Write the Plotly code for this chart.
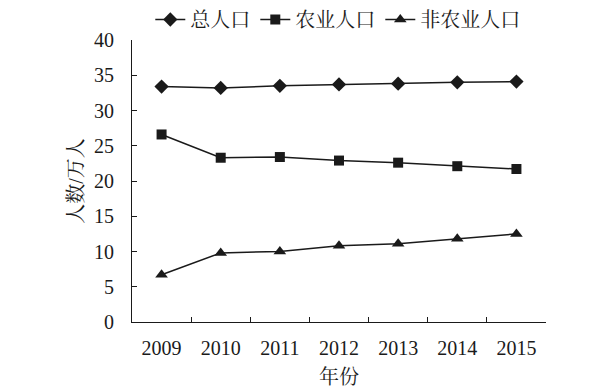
import plotly.graph_objects as go

years = ["2009", "2010", "2011", "2012", "2013", "2014", "2015"]
total_pop = [33.4, 33.2, 33.5, 33.7, 33.8, 34.0, 34.1]
agri_pop = [26.6, 23.3, 23.4, 22.9, 22.6, 22.1, 21.7]
nonagri_pop = [6.7, 9.8, 10.0, 10.8, 11.1, 11.8, 12.5]
series_names = ["总人口", "农业人口", "非农业人口"]
y_ticks = [0, 5, 10, 15, 20, 25, 30, 35, 40]

FONT = "Liberation Serif, Times New Roman, Noto Serif CJK SC, Noto Sans CJK SC, serif"
INK = "#1a1a1a"

fig = go.Figure()
for name, vals, sym in zip(series_names, [total_pop, agri_pop, nonagri_pop],
                           ["diamond", "square", "triangle-up"]):
    fig.add_trace(go.Scatter(
        x=years, y=vals, name=name, mode="lines+markers",
        line=dict(color=INK, width=1.5),
        marker=dict(symbol=sym, size=11 if sym != "square" else 10, color=INK),
    ))

fig.update_layout(
    width=600, height=388,
    margin=dict(l=132, r=54, t=40, b=66, autoexpand=False),
    paper_bgcolor="white", plot_bgcolor="white",
    font=dict(family=FONT, size=20, color=INK),
    showlegend=True,
    legend=dict(orientation="h", x=0.563, xanchor="center", xref="container",
                y=1.0, yanchor="top", yref="container",
                font=dict(size=20), itemwidth=30, tracegroupgap=0,
                bgcolor="rgba(0,0,0,0)"),
    xaxis=dict(type="category", range=[-0.5, 6.5], showgrid=False,
               showline=True, linecolor=INK, linewidth=1,
               ticks="inside", ticklen=5, tickcolor=INK, tickson="boundaries",
               ticklabelstandoff=8,
               title=dict(text="年份", font=dict(size=20), standoff=11),
               tickfont=dict(size=20)),
    yaxis=dict(range=[0, 40], tickvals=y_ticks, showgrid=False, zeroline=False,
               showline=True, linecolor=INK, linewidth=1,
               ticks="inside", ticklen=5, tickcolor=INK,
               ticklabelstandoff=13,
               title=dict(text="人数/万人", font=dict(size=20), standoff=5),
               tickfont=dict(size=20)),
)

fig.write_html("out.html",
               config={"displayModeBar": False},
               post_script="document.body.style.margin='0';document.body.style.padding='0';")
